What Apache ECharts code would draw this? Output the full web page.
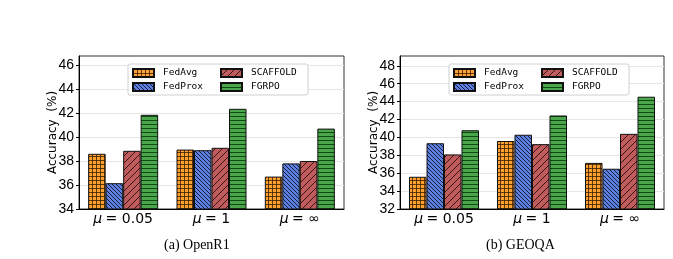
<!DOCTYPE html>
<html>
<head>
<meta charset="utf-8">
<script src="https://cdn.jsdelivr.net/npm/echarts@6/dist/echarts.min.js"></script>
<style>
  html, body { margin: 0; padding: 0; background: #fff; }
  #chart { width: 673px; height: 259px; }
</style>
</head>
<body>
<div id="chart"></div>
<script>
// data
var categories = ['0.05', '1', '∞'];
var methods = ['FedAvg', 'FedProx', 'SCAFFOLD', 'FGRPO'];

var openr1FedAvg = [38.6, 38.95, 36.7];
var openr1FedProx = [36.15, 38.9, 37.8];
var openr1Scaffold = [38.85, 39.1, 38.0];
var openr1Fgrpo = [41.85, 42.35, 40.7];

var geoqaFedAvg = [35.6, 39.6, 37.15];
var geoqaFedProx = [39.35, 40.3, 36.5];
var geoqaScaffold = [38.1, 39.25, 40.4];
var geoqaFgrpo = [40.8, 42.45, 44.55];

var openr1Ticks = [34, 36, 38, 40, 42, 44, 46];
var geoqaTicks = [32, 34, 36, 38, 40, 42, 44, 46, 48];

var captions = ['(a) OpenR1', '(b) GEOQA'];

// hatch patterns (canvas tiles)
function tile(size, bg, draw) {
    var c = document.createElement('canvas');
    c.width = size; c.height = size;
    var ctx = c.getContext('2d');
    ctx.fillStyle = bg;
    ctx.fillRect(0, 0, size, size);
    ctx.strokeStyle = 'rgba(0,0,0,0.75)';
    ctx.lineWidth = 1;
    draw(ctx, size);
    return { image: c, repeat: 'repeat' };
}
var hatchOrange = tile(4, '#ffa12e', function (ctx, s) {
    ctx.fillStyle = 'rgba(60,30,0,0.8)';
    ctx.fillRect(0, 0, s, 1);
    ctx.fillRect(0, 0, 1, s);
});
var hatchBlue = tile(4, '#5e80e2', function (ctx, s) {
    ctx.beginPath();
    for (var k = -1; k <= 1; k++) {
        ctx.moveTo(k * s - 1, -1);
        ctx.lineTo(k * s + s + 1, s + 1);
    }
    ctx.stroke();
});
var hatchRed = tile(7, '#c25b5b', function (ctx, s) {
    ctx.beginPath();
    for (var k = -1; k <= 1; k++) {
        ctx.moveTo(k * s - 1, s + 1);
        ctx.lineTo(k * s + s + 1, -1);
    }
    ctx.stroke();
});
var hatchGreen = tile(4, '#4aa64a', function (ctx, s) {
    ctx.fillStyle = 'rgba(0,40,0,0.75)';
    ctx.fillRect(0, 0, s, 1);
});
var hatches = [hatchOrange, hatchBlue, hatchRed, hatchGreen];

var chart = echarts.init(document.getElementById('chart'));

function makeGrid(left, width) {
    return {
        left: left, top: 56, width: width, height: 153,
        show: true, borderColor: '#333', borderWidth: 1, backgroundColor: 'transparent'
    };
}
function makeX(idx) {
    return {
        type: 'category', gridIndex: idx, data: categories,
        axisLine: { lineStyle: { color: '#000', width: 1 } },
        axisTick: { alignWithLabel: true, length: 3, lineStyle: { color: '#000' } },
        axisLabel: {
            interval: 0, margin: 3,
            formatter: function (v) { return '{m|μ} {t|= ' + v + '}'; },
            rich: {
                m: { fontFamily: 'DejaVu Sans', fontStyle: 'italic', fontSize: 14, color: '#000' },
                t: { fontFamily: 'DejaVu Sans', fontSize: 14, color: '#000' }
            }
        }
    };
}
function makeY(idx, min, max, ticks) {
    return {
        type: 'value', gridIndex: idx, min: min, max: max, interval: 2,
        name: 'Accuracy  (%)', nameLocation: 'middle', nameGap: 20,
        nameMoveOverlap: false,
        nameTextStyle: { fontFamily: 'DejaVu Sans', fontSize: 12, color: '#000' },
        axisLine: { show: true, lineStyle: { color: '#000', width: 1 } },
        axisTick: { show: true, length: 3, customValues: ticks, lineStyle: { color: '#000' } },
        axisLabel: {
            margin: 5, fontFamily: 'Liberation Sans', fontSize: 14, color: '#000',
            customValues: ticks
        },
        splitLine: { show: true, lineStyle: { color: '#e6e6e6', width: 1 } }
    };
}
function makeLegend(idx, left) {
    return {
        data: methods,
        orient: 'vertical',
        left: left, top: 64, height: 26,
        padding: [4, 4, 3, 4],
        itemGap: 4,
        itemWidth: 21, itemHeight: 8,
        icon: 'rect',
        borderColor: '#d0d0d0', borderWidth: 1, borderRadius: 2,
        backgroundColor: 'rgba(255,255,255,0.85)',
        textStyle: {
            fontFamily: 'DejaVu Sans Mono', fontSize: 9.5, color: '#000',
            width: 53, lineHeight: 10, padding: [0, 0, 0, 4]
        }
    };
}

var series = [];
var sets = [
    [openr1FedAvg, openr1FedProx, openr1Scaffold, openr1Fgrpo],
    [geoqaFedAvg, geoqaFedProx, geoqaScaffold, geoqaFgrpo]
];
sets.forEach(function (set, g) {
    set.forEach(function (vals, i) {
        series.push({
            name: methods[i], type: 'bar',
            xAxisIndex: g, yAxisIndex: g,
            data: vals,
            barWidth: 17.5, barGap: '0%',
            itemStyle: { color: hatches[i], borderColor: '#111', borderWidth: 1 },
            emphasis: { disabled: true },
            animation: false
        });
    });
});

var option = {
    animation: false,
    grid: [makeGrid(79, 265), makeGrid(400, 264)],
    xAxis: [makeX(0), makeX(1)],
    yAxis: [makeY(0, 34, 46.75, openr1Ticks), makeY(1, 32, 49.1, geoqaTicks)],
    legend: [makeLegend(0, 128), makeLegend(1, 449)],
    series: series,
    graphic: [
        { type: 'text', left: 164, top: 238, style: { text: captions[0], fontFamily: 'Liberation Serif', fontSize: 14, fill: '#000' } },
        { type: 'text', left: 486, top: 238, style: { text: captions[1], fontFamily: 'Liberation Serif', fontSize: 14, fill: '#000' } }
    ]
};
chart.setOption(option);
</script>
</body>
</html>
